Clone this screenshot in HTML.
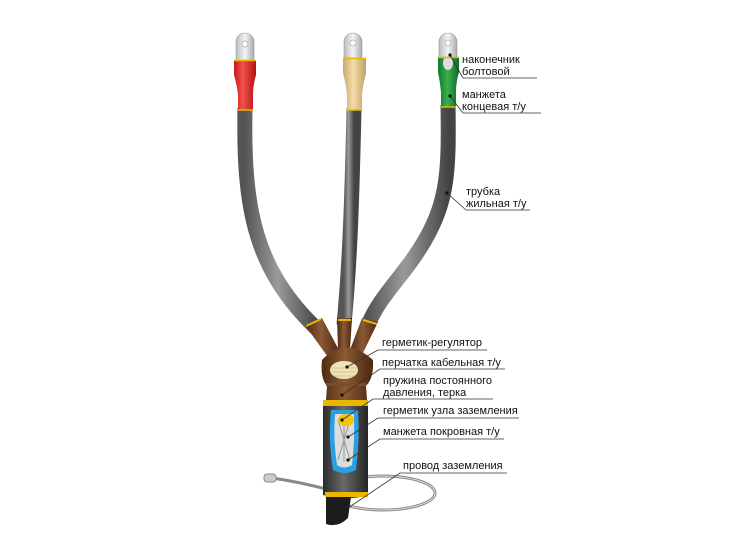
<!DOCTYPE html>
<html><head><meta charset="utf-8"><style>
html,body{margin:0;padding:0;background:#fff;width:743px;height:547px;overflow:hidden}
text{font-family:"Liberation Sans",sans-serif;font-size:11px;fill:#111}
</style></head><body>
<svg width="743" height="547" viewBox="0 0 743 547" xmlns="http://www.w3.org/2000/svg">
<defs>
<linearGradient id="tube" x1="0" x2="1"><stop offset="0" stop-color="#555"/><stop offset=".45" stop-color="#9a9a9a"/><stop offset="1" stop-color="#444"/></linearGradient>
<linearGradient id="red" x1="0" x2="1"><stop offset="0" stop-color="#c8161b"/><stop offset=".4" stop-color="#f0524a"/><stop offset="1" stop-color="#b51014"/></linearGradient>
<linearGradient id="beige" x1="0" x2="1"><stop offset="0" stop-color="#caa870"/><stop offset=".45" stop-color="#f3dca8"/><stop offset="1" stop-color="#c19f62"/></linearGradient>
<linearGradient id="green" x1="0" x2="1"><stop offset="0" stop-color="#0c7a2c"/><stop offset=".45" stop-color="#3bb04c"/><stop offset="1" stop-color="#0a6a25"/></linearGradient>
<linearGradient id="lug" x1="0" x2="1"><stop offset="0" stop-color="#bbb"/><stop offset=".5" stop-color="#f4f4f4"/><stop offset="1" stop-color="#aaa"/></linearGradient>
<linearGradient id="brown" x1="0" x2="1"><stop offset="0" stop-color="#4e2a12"/><stop offset=".45" stop-color="#8a5a34"/><stop offset="1" stop-color="#4a2810"/></linearGradient>
<linearGradient id="dark" x1="0" x2="1"><stop offset="0" stop-color="#2a2a2a"/><stop offset=".45" stop-color="#6a6a6a"/><stop offset="1" stop-color="#252525"/></linearGradient>
</defs>
<ellipse cx="383" cy="493" rx="52" ry="17" fill="none" stroke="#888" stroke-width="3"/>
<ellipse cx="383" cy="493" rx="52" ry="17" fill="none" stroke="#ddd" stroke-width="1"/>
<path d="M272 478 Q300 482 330 490" fill="none" stroke="#888" stroke-width="3"/>
<rect x="264" y="474" width="12" height="8" rx="3" fill="#ccc" stroke="#888"/>
<g fill="none" stroke="url(#tube)" stroke-width="15" stroke-linecap="butt">
<path d="M245 108 C243 210 255 270 318 330"/>
<path d="M354 108 C352 200 350 260 344 325"/>
<path d="M448 105 C449 170 448 200 425 240 C405 275 380 295 368 325"/>
</g>
<g fill="url(#lug)" stroke="#999" stroke-width=".6">
<path d="M236 60 V42 a9 9 0 0 1 18 0 V60 Z"/>
<path d="M344 58 V42 a9 9 0 0 1 18 0 V58 Z"/>
<path d="M439 57 V42 a9 9 0 0 1 18 0 V57 Z"/>
</g>
<g fill="#fff" stroke="#999" stroke-width=".6"><circle cx="245" cy="44" r="3"/><circle cx="353" cy="43" r="3"/><circle cx="448" cy="43" r="3"/></g>
<path d="M234 60 H256 V75 Q253 85 253 95 V110 H238 V95 Q237 85 234 75Z" fill="url(#red)"/>
<path d="M343 58 H366 V73 Q363 85 362 95 V110 H347 V95 Q346 85 343 73Z" fill="url(#beige)"/>
<path d="M438 57 H459 V72 Q456 82 456 92 V107 H441 V92 Q440 82 438 72Z" fill="url(#green)"/>
<ellipse cx="448" cy="63" rx="5" ry="7" fill="#ddd"/>
<g stroke="#e8b800" stroke-width="1.5"><path d="M234 60.5H256M238 110H253M343 58.5H366M347 110H362M438 57.5H459M441 107H456"/></g>
<g fill="url(#brown)">
<path d="M305 325 L322 318 L340 352 L330 360Z"/>
<path d="M337 318 L352 318 L350 350 L338 350Z"/>
<path d="M362 318 L378 322 L362 355 L350 350Z"/>
<path d="M322 360 Q345 335 373 360 Q374 378 366 386 L367 400 H326 L327 386 Q320 378 322 360Z"/>
</g>
<g stroke="#e8b800" stroke-width="2"><path d="M306 326 L321 319M338 320 L351 320M363 320 L377 324"/></g>
<ellipse cx="344" cy="370" rx="14" ry="9" fill="#efe3b8"/>
<path d="M331 368H357M332 372H356M334 376H354" stroke="#c9b98a" stroke-width=".8"/>
<rect x="326" y="383" width="40" height="3" fill="#7a4c28"/>
<path d="M323 400 H368 V495 Q346 502 323 495Z" fill="url(#dark)"/>
<rect x="323" y="400" width="45" height="6" fill="#e8b800"/>
<path d="M331 410 H358 Q360 440 356 470 Q345 476 333 470 Q328 440 331 410Z" fill="#2aa0e0"/>
<path d="M335 414 H354 Q355 440 352 465 Q344 470 337 465 Q333 440 335 414Z" fill="#ddd"/>
<path d="M338 420 L350 460 M350 420 L338 460 M344 418 V462" stroke="#888" stroke-width=".8"/>
<ellipse cx="346" cy="420" rx="8" ry="6" fill="#f4c400"/>
<rect x="325" y="492" width="43" height="5" fill="#e8b800"/>
<path d="M326 497 H351 L348 518 Q338 528 326 524Z" fill="#1c1c1c"/>
<g stroke="#333" stroke-width=".8" fill="none">
<path d="M450 55 L463 78 H537"/>
<path d="M450 96 L463 113 H541"/>
<path d="M447 193 L466 210 H530"/>
<path d="M347 367 L378 350 H487"/>
<path d="M342 395 L380 369 H505"/>
<path d="M342 420 L373 399 H493"/>
<path d="M348 437 L378 418 H519"/>
<path d="M348 460 L380 439 H504"/>
<path d="M348 508 L400 473 H507"/>
</g>
<g fill="#111"><circle cx="450" cy="55" r="1.6"/><circle cx="450" cy="96" r="1.6"/><circle cx="447" cy="193" r="1.6"/><circle cx="347" cy="367" r="1.6"/><circle cx="342" cy="395" r="1.6"/><circle cx="342" cy="420" r="1.6"/><circle cx="348" cy="437" r="1.6"/><circle cx="348" cy="460" r="1.6"/></g>
<text x="462" y="63">наконечник</text><text x="462" y="75">болтовой</text>
<text x="462" y="98">манжета</text><text x="462" y="110">концевая т/у</text>
<text x="466" y="195">трубка</text><text x="466" y="207">жильная т/у</text>
<text x="382" y="346">герметик-регулятор</text>
<text x="382" y="366">перчатка кабельная т/у</text>
<text x="383" y="384">пружина постоянного</text>
<text x="383" y="396">давления, терка</text>
<text x="383" y="414">герметик узла заземления</text>
<text x="383" y="435">манжета покровная т/у</text>
<text x="403" y="469">провод заземления</text>
</svg>
</body></html>
